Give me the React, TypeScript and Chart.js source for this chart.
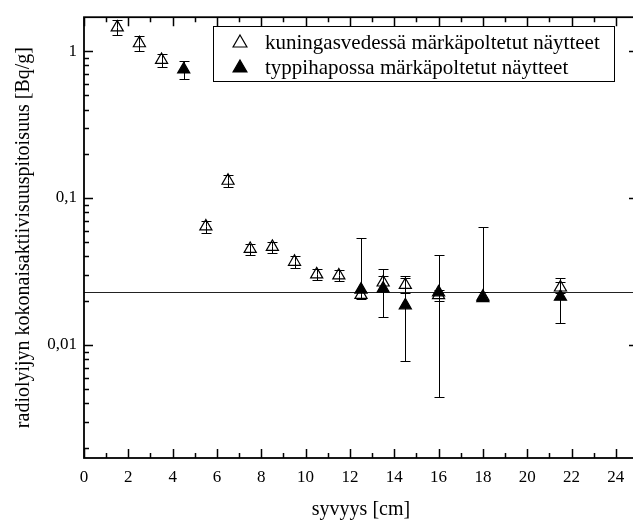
import React, { useEffect, useRef } from "react";
import { Chart, registerables } from "chart.js";

Chart.register(...registerables);

// ---- data ----
const openX = [1.5, 2.5, 3.5, 5.5, 6.5, 7.5, 8.5, 9.5, 10.5, 11.5, 12.5, 13.5, 14.5, 16, 18, 21.5];
const openY = [1.45, 1.13, 0.87, 0.064, 0.131, 0.045, 0.0465, 0.0368, 0.0302, 0.0297, 0.0219, 0.0266, 0.0256, 0.0218, 0.0213, 0.0246];
const openErr = [0.17, 0.13, 0.09, 0.006, 0.012, 0.004, 0.004, 0.0035, 0.0025, 0.0025, 0.0015, 0.003, 0.003, 0.002, 0.0015, 0.002];

const filledX = [4.5, 12.5, 13.5, 14.5, 16, 18, 21.5];
const filledY = [0.75, 0.0238, 0.0242, 0.0186, 0.0228, 0.0208, 0.0213];
const filledErr = [0.1, 0.03, 0.0088, 0.0108, 0.0184, 0.0428, 0.0072];

const referenceLevel = 0.023;

const xTickValues = [0, 2, 4, 6, 8, 10, 12, 14, 16, 18, 20, 22, 24];
const yTickValues = [0.01, 0.1, 1];
const yTickLabels = ["0,01", "0,1", "1"];

const xTitle = "syvyys [cm]";
const yTitle = "radiolyijyn kokonaisaktiivisuuspitoisuus [Bq/g]";
const openLabel = "kuningasvedessä märkäpoltetut näytteet";
const filledLabel = "typpihapossa märkäpoltetut näytteet";

const FONT = "'Liberation Serif', 'Times New Roman', serif";

function triPath(ctx: CanvasRenderingContext2D, x: number, y: number, r: number) {
  let rad = 0;
  ctx.beginPath();
  ctx.moveTo(x + Math.sin(rad) * r, y - Math.cos(rad) * r);
  rad += (2 * Math.PI) / 3;
  ctx.lineTo(x + Math.sin(rad) * r, y - Math.cos(rad) * r);
  rad += (2 * Math.PI) / 3;
  ctx.lineTo(x + Math.sin(rad) * r, y - Math.cos(rad) * r);
  ctx.closePath();
}

const framePlugin = {
  id: "frameTicks",
  beforeDatasetsDraw(chart: any) {
    const { ctx, chartArea: a, scales } = chart;
    const xs = scales.x;
    const ys = scales.y;
    ctx.save();
    // reference line
    const ry = Math.round(ys.getPixelForValue(referenceLevel)) + 0.5;
    ctx.lineWidth = 1;
    ctx.strokeStyle = "#222";
    ctx.beginPath();
    ctx.moveTo(a.left, ry);
    ctx.lineTo(a.right, ry);
    ctx.stroke();
    ctx.strokeStyle = "#000";
    // frame
    ctx.lineWidth = 1.8;
    ctx.strokeRect(a.left, a.top, a.right - a.left, a.bottom - a.top);
    // x ticks (inward, bottom & top)
    ctx.lineWidth = 1.5;
    for (let v = xs.min; v <= xs.max + 1e-9; v += 1) {
      const px = Math.round(xs.getPixelForValue(v)) + 0.5;
      const len = v % 2 === 0 ? 9 : 5;
      ctx.beginPath();
      ctx.moveTo(px, a.bottom);
      ctx.lineTo(px, a.bottom - len);
      ctx.moveTo(px, a.top);
      ctx.lineTo(px, a.top + len);
      ctx.stroke();
    }
    // y ticks (inward, left & right)
    for (let d = -3; d <= 0; d++) {
      for (let m = 1; m <= 9; m++) {
        const v = m * Math.pow(10, d);
        if (v < ys.min || v > ys.max) continue;
        const py = Math.round(ys.getPixelForValue(v)) + 0.5;
        const len = m === 1 ? 9 : 5;
        ctx.beginPath();
        ctx.moveTo(a.left, py);
        ctx.lineTo(a.left + len, py);
        ctx.moveTo(a.right, py);
        ctx.lineTo(a.right - len, py);
        ctx.stroke();
      }
    }
    ctx.restore();
  },
  afterDatasetsDraw(chart: any) {
    const { ctx, scales } = chart;
    const xs = scales.x;
    const ys = scales.y;
    ctx.save();
    ctx.strokeStyle = "#000";
    ctx.lineWidth = 1;
    const cap = 5;
    const drawBars = (X: number[], Y: number[], E: number[]) => {
      for (let i = 0; i < X.length; i++) {
        const px = Math.round(xs.getPixelForValue(X[i])) + 0.5;
        const pc = ys.getPixelForValue(Y[i]);
        const hi = Y[i] + E[i];
        const lo = Y[i] - E[i];
        ctx.beginPath();
        const ph = Math.round(ys.getPixelForValue(hi)) + 0.5;
        ctx.moveTo(px, pc);
        ctx.lineTo(px, ph);
        ctx.moveTo(px - cap, ph);
        ctx.lineTo(px + cap, ph);
        if (lo > 0) {
          const pl = Math.round(ys.getPixelForValue(lo)) + 0.5;
          ctx.moveTo(px, pc);
          ctx.lineTo(px, pl);
          ctx.moveTo(px - cap, pl);
          ctx.lineTo(px + cap, pl);
        }
        ctx.stroke();
      }
    };
    drawBars(openX, openY, openErr);
    drawBars(filledX, filledY, filledErr);

    // legend box
    const bx = 213.5, by = 26.5, bw = 401, bh = 55;
    ctx.fillStyle = "#fff";
    ctx.fillRect(bx, by, bw, bh);
    ctx.lineWidth = 1;
    ctx.strokeRect(bx, by, bw, bh);
    const sx = 240;
    const rows = [
      { y: 42, label: chart.data.datasets[0].label, filled: false },
      { y: 67, label: chart.data.datasets[1].label, filled: true },
    ];
    ctx.font = `21px ${FONT}`;
    ctx.textBaseline = "middle";
    ctx.textAlign = "left";
    for (const r of rows) {
      triPath(ctx, sx, r.y + 1, 8);
      ctx.lineWidth = 1.2;
      if (r.filled) {
        ctx.fillStyle = "#000";
        ctx.fill();
      }
      ctx.stroke();
      ctx.fillStyle = "#000";
      ctx.fillText(r.label, 265, r.y + 1);
    }
    ctx.restore();
  },
};

export default function App() {
  const ref = useRef<HTMLCanvasElement | null>(null);
  useEffect(() => {
    if (!ref.current) return;
    const chart = new Chart(ref.current, {
      type: "scatter",
      data: {
        datasets: [
          {
            label: openLabel,
            data: openX.map((x, i) => ({ x, y: openY[i] })),
            pointStyle: "triangle",
            pointRadius: 7,
            pointHoverRadius: 7,
            backgroundColor: "rgba(0,0,0,0)",
            borderColor: "#000",
            pointBorderWidth: 1.2,
            showLine: false,
          },
          {
            label: filledLabel,
            data: filledX.map((x, i) => ({ x, y: filledY[i] })),
            pointStyle: "triangle",
            pointRadius: 7,
            pointHoverRadius: 7,
            backgroundColor: "#000",
            borderColor: "#000",
            pointBorderWidth: 1.2,
            showLine: false,
          },
        ],
      },
      options: {
        animation: false,
        responsive: false,
        devicePixelRatio: 1,
        layout: { padding: { top: 9, right: 12, left: 0, bottom: 0 } },
        plugins: { legend: { display: false }, tooltip: { enabled: false } },
        scales: {
          x: {
            type: "linear",
            min: 0,
            max: 25,
            grid: { display: false, drawTicks: false },
            border: { display: false },
            afterBuildTicks: (s: any) => {
              s.ticks = xTickValues.map((v) => ({ value: v }));
            },
            afterFit: (s: any) => {
              s.height = 67;
            },
            ticks: {
              padding: 9,
              maxRotation: 0,
              autoSkip: false,
              color: "#000",
              font: { family: FONT, size: 17 },
              callback: (v: any) => String(v),
            },
            title: {
              display: true,
              text: xTitle,
              color: "#000",
              font: { family: FONT, size: 20 },
              padding: { top: 0, bottom: 3 },
            },
          },
          y: {
            type: "logarithmic",
            min: 0.0017,
            max: 1.7,
            grid: { display: false, drawTicks: false },
            border: { display: false },
            afterBuildTicks: (s: any) => {
              s.ticks = yTickValues.map((v) => ({ value: v }));
            },
            afterFit: (s: any) => {
              s.width = 84;
            },
            ticks: {
              padding: 7,
              autoSkip: false,
              color: "#000",
              font: { family: FONT, size: 17 },
              callback: (v: any) => {
                const idx = yTickValues.findIndex((t) => Math.abs(t - v) < t * 1e-6);
                return idx >= 0 ? yTickLabels[idx] : "";
              },
            },
            title: {
              display: true,
              text: yTitle,
              color: "#000",
              font: { family: FONT, size: 20 },
              padding: { top: 12, bottom: 0 },
            },
          },
        },
      },
      plugins: [framePlugin],
    });
    return () => chart.destroy();
  }, []);

  return (
    <div
      style={{
        position: "fixed",
        left: 0,
        top: 0,
        width: 633,
        height: 525,
        overflow: "hidden",
        background: "#fff",
      }}
    >
      <canvas ref={ref} width={650} height={525} style={{ display: "block" }} />
    </div>
  );
}
